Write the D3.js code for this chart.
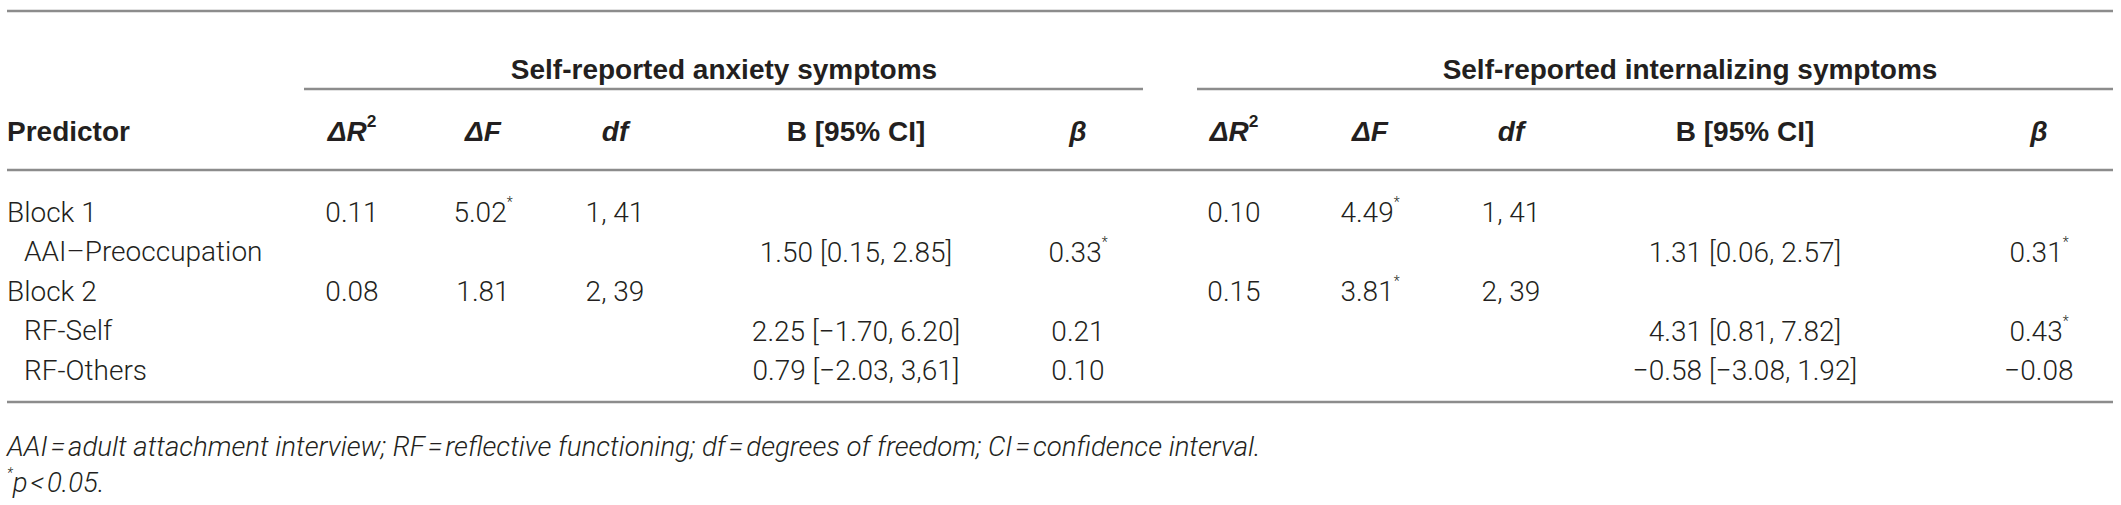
<!DOCTYPE html>
<html><head><meta charset="utf-8">
<script src="https://cdn.jsdelivr.net/npm/d3@7"></script>
<style>
html,body{margin:0;padding:0;background:#fff;}
svg{display:block;}
.body{font-family:Roboto,"Liberation Sans",sans-serif;font-weight:300;fill:#231f20;}
.hdr{font-family:"Liberation Sans",Arial,sans-serif;font-weight:bold;fill:#231f20;}
</style></head>
<body>
<svg id="t" width="2121" height="505"></svg>
<script>
// ---- data ----
const groups = ["Self-reported anxiety symptoms", "Self-reported internalizing symptoms"];
const predictors = ["Block 1", "AAI\u2013Preoccupation", "Block 2", "RF-Self", "RF-Others"];
const indented = [false, true, false, true, true];
// anxiety
const anxR2   = ["0.11", "", "0.08", "", ""];
const anxF    = ["5.02*", "", "1.81", "", ""];
const anxDf   = ["1, 41", "", "2, 39", "", ""];
const anxB    = ["", "1.50 [0.15, 2.85]", "", "2.25 [\u22121.70, 6.20]", "0.79 [\u22122.03, 3,61]"];
const anxBeta = ["", "0.33*", "", "0.21", "0.10"];
// internalizing
const intR2   = ["0.10", "", "0.15", "", ""];
const intF    = ["4.49*", "", "3.81*", "", ""];
const intDf   = ["1, 41", "", "2, 39", "", ""];
const intB    = ["", "1.31 [0.06, 2.57]", "", "4.31 [0.81, 7.82]", "\u22120.58 [\u22123.08, 1.92]"];
const intBeta = ["", "0.31*", "", "0.43*", "\u22120.08"];
const footnotes = ["AAI\u200a=\u200aadult attachment interview; RF\u200a=\u200areflective functioning; df\u200a=\u200adegrees of freedom; CI\u200a=\u200aconfidence interval.", "*p\u200a<\u200a0.05."];

// ---- layout ----
const svg = d3.select("#t");
const FS = 28, HFS = 28, NFS = 27.6;
const colX = d3.scaleOrdinal()
  .domain(["a_dR2","a_dF","a_df","a_B","a_beta","i_dR2","i_dF","i_df","i_B","i_beta"])
  .range([352, 483, 615, 856, 1078, 1234, 1370, 1511, 1745, 2039]);
const rowY = d3.scalePoint().domain(d3.range(predictors.length)).range([212, 370]);
const lineX0 = 7, lineX1 = 2113;
const line = (x0,x1,y) => svg.append("line").attr("x1",x0).attr("x2",x1).attr("y1",y).attr("y2",y)
  .attr("stroke","#8c8c8c").attr("stroke-width",2.4);

line(lineX0, lineX1, 11);
line(lineX0, lineX1, 170);
line(lineX0, lineX1, 402);
line(304, 1143, 89);
line(1197, lineX1, 89);

// group headers
const groupCenters = [724, 1690];
svg.selectAll("text.grp").data(groups).join("text")
  .attr("class","hdr grp").attr("x",(d,i)=>groupCenters[i]).attr("y",69)
  .attr("text-anchor","middle").attr("dominant-baseline","central")
  .attr("font-size",HFS).text(d=>d);

// column headers
const hy = 131;
svg.append("text").attr("class","hdr").attr("x",lineX0).attr("y",hy)
  .attr("dominant-baseline","central").attr("font-size",HFS).text("Predictor");
["a","i"].forEach(p=>{
  let t = svg.append("text").attr("class","hdr").attr("x",colX(p+"_dR2")).attr("y",hy)
    .attr("text-anchor","middle").attr("dominant-baseline","central").attr("font-size",HFS);
  t.append("tspan").attr("font-style","italic").text("\u0394R");
  t.append("tspan").attr("font-size",HFS*0.62).attr("dy",-10).text("2");
  svg.append("text").attr("class","hdr").attr("x",colX(p+"_dF")).attr("y",hy)
    .attr("text-anchor","middle").attr("dominant-baseline","central").attr("font-size",HFS)
    .attr("font-style","italic").text("\u0394F");
  svg.append("text").attr("class","hdr").attr("x",colX(p+"_df")).attr("y",hy)
    .attr("text-anchor","middle").attr("dominant-baseline","central").attr("font-size",HFS)
    .attr("font-style","italic").text("df");
  svg.append("text").attr("class","hdr").attr("x",colX(p+"_B")).attr("y",hy)
    .attr("text-anchor","middle").attr("dominant-baseline","central").attr("font-size",HFS)
    .text("B [95% CI]");
  svg.append("text").attr("class","hdr").attr("x",colX(p+"_beta")).attr("y",hy)
    .attr("text-anchor","middle").attr("dominant-baseline","central").attr("font-size",HFS)
    .attr("font-style","italic").text("\u03b2");
});

// predictors
svg.selectAll("text.pred").data(predictors).join("text")
  .attr("class","body pred").attr("x",(d,i)=>indented[i]?lineX0+17:lineX0).attr("y",(d,i)=>rowY(i))
  .attr("dominant-baseline","central").attr("font-size",FS).text(d=>d);

// cells
function cells(arr, key){
  arr.forEach((v,i)=>{
    if(!v) return;
    const star = v.endsWith("*");
    const txt = star ? v.slice(0,-1) : v;
    const t = svg.append("text").attr("class","body").attr("x",colX(key)).attr("y",rowY(i))
      .attr("text-anchor","middle").attr("dominant-baseline","central").attr("font-size",FS);
    t.append("tspan").text(txt);
    if(star) t.append("tspan").attr("font-size",FS*0.5).attr("dy",-10).text("*");
  });
}
cells(anxR2,"a_dR2"); cells(anxF,"a_dF"); cells(anxDf,"a_df"); cells(anxB,"a_B"); cells(anxBeta,"a_beta");
cells(intR2,"i_dR2"); cells(intF,"i_dF"); cells(intDf,"i_df"); cells(intB,"i_B"); cells(intBeta,"i_beta");

// footnotes
svg.append("text").attr("class","body").attr("x",lineX0).attr("y",446)
  .attr("dominant-baseline","central").attr("font-size",NFS).attr("font-style","italic").text(footnotes[0]);
const f2 = svg.append("text").attr("class","body").attr("x",lineX0).attr("y",482)
  .attr("dominant-baseline","central").attr("font-size",NFS).attr("font-style","italic");
f2.append("tspan").attr("font-size",NFS*0.5).attr("dy",-9).text("*");
f2.append("tspan").attr("dy",9).text(footnotes[1].slice(1));
</script>
</body></html>
